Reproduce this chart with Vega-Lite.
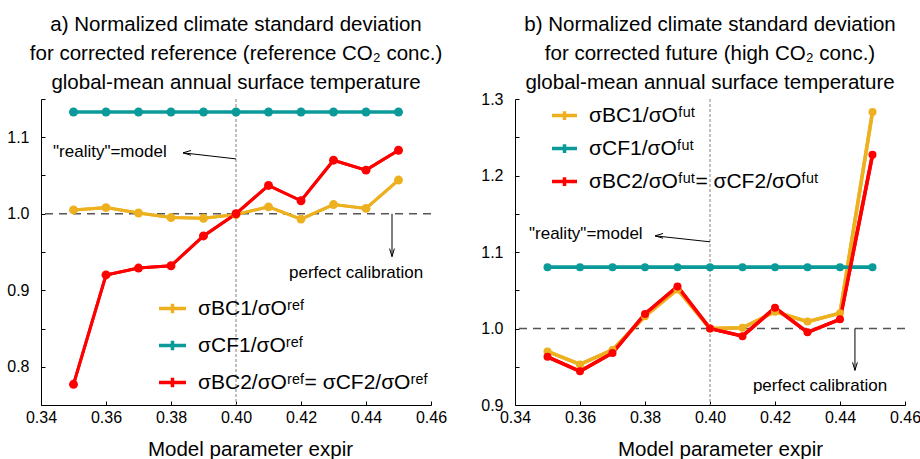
{
  "$schema": "https://vega.github.io/schema/vega-lite/v6.json",
  "padding": {"left": 5, "top": 14, "right": 5, "bottom": 0},
  "spacing": 32,
  "background": "white",
  "config": {
    "view": {"stroke": null},
    "font": "Liberation Sans",
    "title": {"font": "Liberation Sans", "fontSize": 20.5, "fontWeight": "normal", "lineHeight": 29, "anchor": "middle", "offset": -2, "color": "#000"},
    "axis": {"labelFont": "Liberation Sans", "labelFontSize": 16, "labelColor": "#000", "domainColor": "#000", "tickColor": "#000", "grid": false, "tickSize": -4, "labelPadding": 8, "titleFont": "Liberation Sans", "titleFontSize": 20.5, "titleFontWeight": "normal", "titleColor": "#000", "labelOverlap": false},
    "axisY": {"minExtent": 36, "maxExtent": 36, "labelPadding": 16},
    "legend": {"labelFont": "Liberation Sans", "labelColor": "#000", "labelLimit": 500}
  },
  "datasets": {
    "ref": [
      {"expir": 0.35, "series": "σBC1/σOʳᵉᶠ", "ratio": 1.005},
      {"expir": 0.36, "series": "σBC1/σOʳᵉᶠ", "ratio": 1.008},
      {"expir": 0.37, "series": "σBC1/σOʳᵉᶠ", "ratio": 1.001},
      {"expir": 0.38, "series": "σBC1/σOʳᵉᶠ", "ratio": 0.995},
      {"expir": 0.39, "series": "σBC1/σOʳᵉᶠ", "ratio": 0.994},
      {"expir": 0.40, "series": "σBC1/σOʳᵉᶠ", "ratio": 0.999},
      {"expir": 0.41, "series": "σBC1/σOʳᵉᶠ", "ratio": 1.009},
      {"expir": 0.42, "series": "σBC1/σOʳᵉᶠ", "ratio": 0.993},
      {"expir": 0.43, "series": "σBC1/σOʳᵉᶠ", "ratio": 1.012},
      {"expir": 0.44, "series": "σBC1/σOʳᵉᶠ", "ratio": 1.007},
      {"expir": 0.45, "series": "σBC1/σOʳᵉᶠ", "ratio": 1.044},
      {"expir": 0.35, "series": "σCF1/σOʳᵉᶠ", "ratio": 1.133},
      {"expir": 0.36, "series": "σCF1/σOʳᵉᶠ", "ratio": 1.133},
      {"expir": 0.37, "series": "σCF1/σOʳᵉᶠ", "ratio": 1.133},
      {"expir": 0.38, "series": "σCF1/σOʳᵉᶠ", "ratio": 1.133},
      {"expir": 0.39, "series": "σCF1/σOʳᵉᶠ", "ratio": 1.133},
      {"expir": 0.40, "series": "σCF1/σOʳᵉᶠ", "ratio": 1.133},
      {"expir": 0.41, "series": "σCF1/σOʳᵉᶠ", "ratio": 1.133},
      {"expir": 0.42, "series": "σCF1/σOʳᵉᶠ", "ratio": 1.133},
      {"expir": 0.43, "series": "σCF1/σOʳᵉᶠ", "ratio": 1.133},
      {"expir": 0.44, "series": "σCF1/σOʳᵉᶠ", "ratio": 1.133},
      {"expir": 0.45, "series": "σCF1/σOʳᵉᶠ", "ratio": 1.133},
      {"expir": 0.35, "series": "σBC2/σOʳᵉᶠ= σCF2/σOʳᵉᶠ", "ratio": 0.777},
      {"expir": 0.36, "series": "σBC2/σOʳᵉᶠ= σCF2/σOʳᵉᶠ", "ratio": 0.920},
      {"expir": 0.37, "series": "σBC2/σOʳᵉᶠ= σCF2/σOʳᵉᶠ", "ratio": 0.929},
      {"expir": 0.38, "series": "σBC2/σOʳᵉᶠ= σCF2/σOʳᵉᶠ", "ratio": 0.932},
      {"expir": 0.39, "series": "σBC2/σOʳᵉᶠ= σCF2/σOʳᵉᶠ", "ratio": 0.971},
      {"expir": 0.40, "series": "σBC2/σOʳᵉᶠ= σCF2/σOʳᵉᶠ", "ratio": 1.000},
      {"expir": 0.41, "series": "σBC2/σOʳᵉᶠ= σCF2/σOʳᵉᶠ", "ratio": 1.037},
      {"expir": 0.42, "series": "σBC2/σOʳᵉᶠ= σCF2/σOʳᵉᶠ", "ratio": 1.017},
      {"expir": 0.43, "series": "σBC2/σOʳᵉᶠ= σCF2/σOʳᵉᶠ", "ratio": 1.070},
      {"expir": 0.44, "series": "σBC2/σOʳᵉᶠ= σCF2/σOʳᵉᶠ", "ratio": 1.057},
      {"expir": 0.45, "series": "σBC2/σOʳᵉᶠ= σCF2/σOʳᵉᶠ", "ratio": 1.083}
    ],
    "fut": [
      {"expir": 0.35, "series": "σBC1/σOᶠᵘᵗ", "ratio": 0.970},
      {"expir": 0.36, "series": "σBC1/σOᶠᵘᵗ", "ratio": 0.953},
      {"expir": 0.37, "series": "σBC1/σOᶠᵘᵗ", "ratio": 0.972},
      {"expir": 0.38, "series": "σBC1/σOᶠᵘᵗ", "ratio": 1.016},
      {"expir": 0.39, "series": "σBC1/σOᶠᵘᵗ", "ratio": 1.051},
      {"expir": 0.40, "series": "σBC1/σOᶠᵘᵗ", "ratio": 1.000},
      {"expir": 0.41, "series": "σBC1/σOᶠᵘᵗ", "ratio": 1.001},
      {"expir": 0.42, "series": "σBC1/σOᶠᵘᵗ", "ratio": 1.022},
      {"expir": 0.43, "series": "σBC1/σOᶠᵘᵗ", "ratio": 1.009},
      {"expir": 0.44, "series": "σBC1/σOᶠᵘᵗ", "ratio": 1.020},
      {"expir": 0.45, "series": "σBC1/σOᶠᵘᵗ", "ratio": 1.283},
      {"expir": 0.35, "series": "σCF1/σOᶠᵘᵗ", "ratio": 1.080},
      {"expir": 0.36, "series": "σCF1/σOᶠᵘᵗ", "ratio": 1.080},
      {"expir": 0.37, "series": "σCF1/σOᶠᵘᵗ", "ratio": 1.080},
      {"expir": 0.38, "series": "σCF1/σOᶠᵘᵗ", "ratio": 1.080},
      {"expir": 0.39, "series": "σCF1/σOᶠᵘᵗ", "ratio": 1.080},
      {"expir": 0.40, "series": "σCF1/σOᶠᵘᵗ", "ratio": 1.080},
      {"expir": 0.41, "series": "σCF1/σOᶠᵘᵗ", "ratio": 1.080},
      {"expir": 0.42, "series": "σCF1/σOᶠᵘᵗ", "ratio": 1.080},
      {"expir": 0.43, "series": "σCF1/σOᶠᵘᵗ", "ratio": 1.080},
      {"expir": 0.44, "series": "σCF1/σOᶠᵘᵗ", "ratio": 1.080},
      {"expir": 0.45, "series": "σCF1/σOᶠᵘᵗ", "ratio": 1.080},
      {"expir": 0.35, "series": "σBC2/σOᶠᵘᵗ= σCF2/σOᶠᵘᵗ", "ratio": 0.963},
      {"expir": 0.36, "series": "σBC2/σOᶠᵘᵗ= σCF2/σOᶠᵘᵗ", "ratio": 0.944},
      {"expir": 0.37, "series": "σBC2/σOᶠᵘᵗ= σCF2/σOᶠᵘᵗ", "ratio": 0.968},
      {"expir": 0.38, "series": "σBC2/σOᶠᵘᵗ= σCF2/σOᶠᵘᵗ", "ratio": 1.019},
      {"expir": 0.39, "series": "σBC2/σOᶠᵘᵗ= σCF2/σOᶠᵘᵗ", "ratio": 1.055},
      {"expir": 0.40, "series": "σBC2/σOᶠᵘᵗ= σCF2/σOᶠᵘᵗ", "ratio": 1.000},
      {"expir": 0.41, "series": "σBC2/σOᶠᵘᵗ= σCF2/σOᶠᵘᵗ", "ratio": 0.990},
      {"expir": 0.42, "series": "σBC2/σOᶠᵘᵗ= σCF2/σOᶠᵘᵗ", "ratio": 1.027},
      {"expir": 0.43, "series": "σBC2/σOᶠᵘᵗ= σCF2/σOᶠᵘᵗ", "ratio": 0.995},
      {"expir": 0.44, "series": "σBC2/σOᶠᵘᵗ= σCF2/σOᶠᵘᵗ", "ratio": 1.012},
      {"expir": 0.45, "series": "σBC2/σOᶠᵘᵗ= σCF2/σOᶠᵘᵗ", "ratio": 1.227}
    ]
  },
  "resolve": {"scale": {"color": "independent"}, "legend": {"color": "independent"}},
  "hconcat": [
    {
      "title": {"text": ["a) Normalized climate standard deviation", "for corrected reference (reference CO₂ conc.)", "global-mean annual surface temperature"]},
      "width": 390,
      "height": 306,
      "layer": [
        {
          "data": {"name": "ref"},
          "mark": {"type": "line", "strokeWidth": 3},
          "encoding": {
            "x": {"field": "expir", "type": "quantitative", "scale": {"domain": [0.34, 0.46], "nice": false, "zero": false},
              "axis": {"values": [0.34, 0.36, 0.38, 0.40, 0.42, 0.44, 0.46], "tickCount": 20, "format": ".2f", "labelFlush": false, "title": "Model parameter expir", "titlePadding": 14, "titleX": 209}},
            "y": {"field": "ratio", "type": "quantitative", "scale": {"domain": [0.75, 1.15], "nice": false, "zero": false},
              "axis": {"values": [0.75, 0.8, 0.85, 0.9, 0.95, 1.0, 1.05, 1.1, 1.15], "tickCount": 20, "labelExpr": "indexof(['0.80','0.90','1.00','1.10'], format(datum.value, '.2f')) >= 0 ? format(datum.value, '.1f') : ''", "title": null}},
            "color": {"field": "series", "type": "nominal",
              "scale": {"domain": ["σBC1/σOʳᵉᶠ", "σCF1/σOʳᵉᶠ", "σBC2/σOʳᵉᶠ= σCF2/σOʳᵉᶠ"], "range": ["#EDB120", "#0A9A9A", "#FF0000"]},
              "legend": {"orient": "none", "legendX": 116, "legendY": 194, "title": null, "symbolType": "M-1,0H1M0,-0.35V0.35", "symbolSize": 729, "symbolStrokeWidth": 3.5, "labelFontSize": 21, "rowPadding": 9, "labelOffset": 10}}
          }
        },
        {
          "data": {"values": [{}]},
          "mark": {"type": "rule", "color": "#555555", "strokeDash": [8, 6], "strokeWidth": 1.3},
          "encoding": {"y": {"datum": 1.0}}
        },
        {
          "data": {"values": [{}]},
          "mark": {"type": "rule", "color": "#b3a9a9", "strokeDash": [3, 2], "strokeWidth": 1.5},
          "encoding": {"x": {"datum": 0.40}}
        },
        {
          "data": {"name": "ref"},
          "mark": {"type": "line", "strokeWidth": 3},
          "encoding": {
            "x": {"field": "expir", "type": "quantitative"},
            "y": {"field": "ratio", "type": "quantitative"},
            "color": {"field": "series", "type": "nominal", "legend": null}
          }
        },
        {
          "data": {"name": "ref"},
          "mark": {"type": "point", "filled": true, "size": 80, "opacity": 1},
          "encoding": {
            "x": {"field": "expir", "type": "quantitative"},
            "y": {"field": "ratio", "type": "quantitative"},
            "color": {"field": "series", "type": "nominal", "legend": null}
          }
        },
        {
          "data": {"values": [{}]},
          "mark": {"type": "text", "text": "\"reality\"=model", "align": "left", "baseline": "middle", "fontSize": 17, "color": "#000"},
          "encoding": {"x": {"datum": 0.3437}, "y": {"datum": 1.081}}
        },
        {
          "data": {"values": [{}]},
          "mark": {"type": "rule", "color": "#000", "strokeWidth": 1},
          "encoding": {"x": {"datum": 0.40}, "y": {"datum": 1.0717}, "x2": {"datum": 0.3837}, "y2": {"datum": 1.0796}}
        },
        {
          "data": {"values": [{}]},
          "mark": {"type": "point", "shape": "M0,0L2,-0.6M0,0L2,0.6", "filled": false, "size": 64, "strokeWidth": 1, "color": "#000", "opacity": 1},
          "encoding": {"x": {"datum": 0.3837}, "y": {"datum": 1.0796}}
        },
        {
          "data": {"values": [{}]},
          "mark": {"type": "text", "text": "perfect calibration", "align": "left", "baseline": "middle", "fontSize": 17, "color": "#000"},
          "encoding": {"x": {"datum": 0.4163}, "y": {"datum": 0.923}}
        },
        {
          "data": {"values": [{}]},
          "mark": {"type": "rule", "color": "#000", "strokeWidth": 1},
          "encoding": {"x": {"datum": 0.448}, "y": {"datum": 1.0}, "y2": {"datum": 0.944}}
        },
        {
          "data": {"values": [{}]},
          "mark": {"type": "point", "shape": "M0,0L-0.6,-2M0,0L0.6,-2", "filled": false, "size": 64, "strokeWidth": 1, "color": "#000", "opacity": 1},
          "encoding": {"x": {"datum": 0.448}, "y": {"datum": 0.944}}
        }
      ]
    },
    {
      "title": {"text": ["b) Normalized climate standard deviation", "for corrected future (high CO₂ conc.)", "global-mean annual surface temperature"]},
      "width": 390,
      "height": 306,
      "layer": [
        {
          "data": {"name": "fut"},
          "mark": {"type": "line", "strokeWidth": 3.5},
          "encoding": {
            "x": {"field": "expir", "type": "quantitative", "scale": {"domain": [0.34, 0.46], "nice": false, "zero": false},
              "axis": {"values": [0.34, 0.36, 0.38, 0.40, 0.42, 0.44, 0.46], "tickCount": 20, "format": ".2f", "labelFlush": false, "title": "Model parameter expir", "titlePadding": 14, "titleX": 205}},
            "y": {"field": "ratio", "type": "quantitative", "scale": {"domain": [0.9, 1.3], "nice": false, "zero": false},
              "axis": {"values": [0.9, 0.95, 1.0, 1.05, 1.1, 1.15, 1.2, 1.25, 1.3], "tickCount": 20, "labelExpr": "indexof(['0.90','1.00','1.10','1.20','1.30'], format(datum.value, '.2f')) >= 0 ? format(datum.value, '.1f') : ''", "title": null}},
            "color": {"field": "series", "type": "nominal",
              "scale": {"domain": ["σBC1/σOᶠᵘᵗ", "σCF1/σOᶠᵘᵗ", "σBC2/σOᶠᵘᵗ= σCF2/σOᶠᵘᵗ"], "range": ["#EDB120", "#0A9A9A", "#FF0000"]},
              "legend": {"orient": "none", "legendX": 35, "legendY": 2, "title": null, "symbolType": "M-1,0H1M0,-0.35V0.35", "symbolSize": 625, "symbolStrokeWidth": 3.5, "labelFontSize": 21, "rowPadding": 7, "labelOffset": 10}}
          }
        },
        {
          "data": {"values": [{}]},
          "mark": {"type": "rule", "color": "#555555", "strokeDash": [8, 6], "strokeWidth": 1.3},
          "encoding": {"y": {"datum": 1.0}}
        },
        {
          "data": {"values": [{}]},
          "mark": {"type": "rule", "color": "#b3a9a9", "strokeDash": [3, 2], "strokeWidth": 1.5},
          "encoding": {"x": {"datum": 0.40}}
        },
        {
          "data": {"name": "fut"},
          "mark": {"type": "line", "strokeWidth": 3.5},
          "encoding": {
            "x": {"field": "expir", "type": "quantitative"},
            "y": {"field": "ratio", "type": "quantitative"},
            "color": {"field": "series", "type": "nominal", "legend": null}
          }
        },
        {
          "data": {"name": "fut"},
          "mark": {"type": "point", "filled": true, "size": 64, "opacity": 1},
          "encoding": {
            "x": {"field": "expir", "type": "quantitative"},
            "y": {"field": "ratio", "type": "quantitative"},
            "color": {"field": "series", "type": "nominal", "legend": null}
          }
        },
        {
          "data": {"values": [{}]},
          "mark": {"type": "text", "text": "\"reality\"=model", "align": "left", "baseline": "middle", "fontSize": 17, "color": "#000"},
          "encoding": {"x": {"datum": 0.3443}, "y": {"datum": 1.1237}}
        },
        {
          "data": {"values": [{}]},
          "mark": {"type": "rule", "color": "#000", "strokeWidth": 1},
          "encoding": {"x": {"datum": 0.40}, "y": {"datum": 1.1133}, "x2": {"datum": 0.3831}, "y2": {"datum": 1.1211}}
        },
        {
          "data": {"values": [{}]},
          "mark": {"type": "point", "shape": "M0,0L2,-0.6M0,0L2,0.6", "filled": false, "size": 64, "strokeWidth": 1, "color": "#000", "opacity": 1},
          "encoding": {"x": {"datum": 0.3831}, "y": {"datum": 1.1211}}
        },
        {
          "data": {"values": [{}]},
          "mark": {"type": "text", "text": "perfect calibration", "align": "left", "baseline": "middle", "fontSize": 17, "color": "#000"},
          "encoding": {"x": {"datum": 0.4132}, "y": {"datum": 0.9245}}
        },
        {
          "data": {"values": [{}]},
          "mark": {"type": "rule", "color": "#000", "strokeWidth": 1},
          "encoding": {"x": {"datum": 0.4446}, "y": {"datum": 1.0}, "y2": {"datum": 0.9453}}
        },
        {
          "data": {"values": [{}]},
          "mark": {"type": "point", "shape": "M0,0L-0.6,-2M0,0L0.6,-2", "filled": false, "size": 64, "strokeWidth": 1, "color": "#000", "opacity": 1},
          "encoding": {"x": {"datum": 0.4446}, "y": {"datum": 0.9453}}
        }
      ]
    }
  ]
}
